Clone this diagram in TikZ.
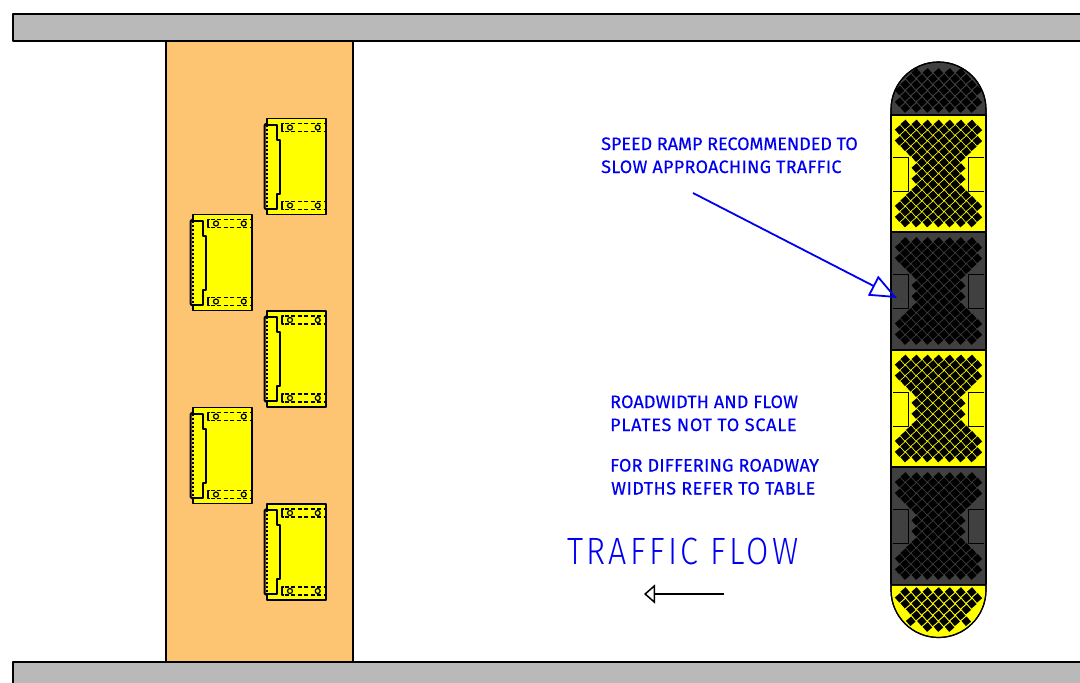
\documentclass[tikz,border=0pt]{standalone}
\usepackage{fontspec}
\setmainfont{Fira Sans}
\newfontfamily\flowfont{Fira Sans Light}
\usetikzlibrary{arrows.meta}
\definecolor{kerbgray}{HTML}{B9B9B9}
\definecolor{crossing}{HTML}{FDC572}
\definecolor{rampdark}{HTML}{404040}
\definecolor{noteblue}{HTML}{0000F0}
\definecolor{platey}{HTML}{FFFF00}
\tikzset{
	roadbar/.style={draw=black, line width=2pt, fill=kerbgray},
	rampface/.style={draw=black, line width=1.2pt},
	note/.style={anchor=base west, inner sep=0pt, text=noteblue, font=\fontsize{18}{18}\selectfont\addfontfeature{LetterSpace=#1,FakeBold=0.4}},
	pics/plate/.style={code={
		\fill[platey] (0,0) rectangle (59,96);
		\draw[line width=1.5pt] (0,6) -- (0,0) -- (59,0) -- (59,96) -- (0,96) -- (0,90);
		\draw[line width=2pt] (-1,5) -- (-2.5,7) -- (-2.5,89) -- (-1,91);
		\draw[line width=2pt] (-2,6) -- (9.7,6) -- (9.7,21) -- (13,21) -- (13,75) -- (9.7,75) -- (9.7,90) -- (-2,90);
		\draw[line width=1.8pt, dash pattern=on 2pt off 2pt] (0.3,6) -- (0.3,90);
		\foreach \sloty in {9,87}{
			\draw[line width=1.5pt] (16.5,\sloty-4) -- (15,\sloty-4) -- (15,\sloty+4) -- (16.5,\sloty+4);
			\draw[line width=1.2pt, dash pattern=on 4pt off 2.5pt] (17.5,\sloty-4) -- (59,\sloty-4);
			\draw[line width=1.2pt, dash pattern=on 4pt off 2.5pt] (17.5,\sloty+4) -- (59,\sloty+4);
			\draw[line width=1.2pt] (23,\sloty) circle (2.5);
			\draw[line width=1.2pt] (50.7,\sloty) circle (2.5);
		}
	}}
}
% one stud of the ramp, #1 is where it sits
\newcommand{\rampstud}[1]{\fill[black, shift={#1}, rotate=41] (-3.4,-3.4) rectangle (3.4,3.4);}
% studs of one full section, #1 is its middle
\newcommand{\rampstuds}[1]{%
	\foreach \row in {0,...,18}{
		\pgfmathsetmacro\dist{abs(\row-9)*5.45}
		\pgfmathsetmacro\halfw{\dist<18?27:(\dist<24?33:(\dist<47?40:34))}
		\foreach \col in {-4,...,4}{
			\pgfmathsetmacro\dx{\col*11.1+mod(\row,2)*5.55}
			\pgfmathtruncatemacro\keep{abs(\dx)<\halfw+0.1}
			\ifnum\keep=1
				\rampstud{(938.5+\dx,#1+\row*5.45-49.05)}
			\fi
		}
	}
}
% studs of an end cap: #1 first row, #2 row step, #3 flat edge, #4 how far out
\newcommand{\capstuds}[4]{%
	\foreach \row in {0,...,6}{
		\foreach \col in {-4,...,4}{
			\pgfmathsetmacro\dx{\col*11.1+mod(\row,2)*5.55}
			\pgfmathsetmacro\rowy{#1+\row*#2}
			\pgfmathtruncatemacro\keep{and(abs(\dx)<40,(\dx/47.5)*(\dx/47.5)+((\rowy-#3)/53)*((\rowy-#3)/53)<#4)}
			\ifnum\keep=1
				\rampstud{(938.5+\dx,\rowy)}
			\fi
		}
	}
}
\newcommand{\rampsection}[2]{%
	\fill[#2] (891,#1-58.5) rectangle (986,#1+58.5);
	\rampstuds{#1}
	\draw[black, line width=1pt, fill=#2] (893,#1-16.5) -- (908,#1-16.5) -- (908,#1+17.5) -- (893,#1+17.5);
	\draw[black, line width=1pt, fill=#2] (984,#1-16.5) -- (968,#1-16.5) -- (968,#1+17.5) -- (984,#1+17.5);
	\draw[rampface] (891,#1-58.5) rectangle (986,#1+58.5);
}
\begin{document}
\begin{tikzpicture}[x=1pt, y=-1pt, line join=round]
	\useasboundingbox (0,0) rectangle (1080,683);
	% road edges and crossing
	\draw[roadbar] (1090,14) -- (12.5,14) -- (12.5,40.5) -- (1090,40.5);
	\draw[roadbar] (1090,662) -- (12.5,662) -- (12.5,690) -- (1090,690);
	\draw[black, line width=1.3pt, fill=crossing] (166,41) rectangle (353,662);
	% flow plates
	\path (267,118.5) pic {plate};
	\path (193,214.5) pic {plate};
	\path (267,311) pic {plate};
	\path (193,407.5) pic {plate};
	\path (267,504) pic {plate};
	% speed ramp
	\draw[rampface, fill=rampdark] (891,115) -- (891,109.5) arc (180:360:47.5) -- (986,115) -- cycle;
	\capstuds{108}{-5.85}{115}{0.92}
	\draw[rampface] (891,115) -- (891,109.5) arc (180:360:47.5) -- (986,115) -- cycle;
	\draw[rampface, fill=platey] (891,585) -- (891,590) arc (180:0:47.5) -- (986,585) -- cycle;
	\capstuds{592}{5.85}{585}{0.82}
	\draw[rampface] (891,585) -- (891,590) arc (180:0:47.5) -- (986,585) -- cycle;
	\rampsection{173.5}{platey}
	\rampsection{291}{rampdark}
	\rampsection{408.5}{platey}
	\rampsection{526}{rampdark}
	% notes
	\node[note=-0.2] (ramp1) at (601,150) {SPEED RAMP RECOMMENDED TO};
	\node[note=1.65] (ramp2) at (601,173) {SLOW APPROACHING TRAFFIC};
	\node[note=0.8] (width1) at (610,408) {ROADWIDTH AND FLOW};
	\node[note=4.2] (width2) at (610,431) {PLATES NOT TO SCALE};
	\node[note=1.3] (table1) at (610,471.5) {FOR DIFFERING ROADWAY};
	\node[note=2.6] (table2) at (611,494.5) {WIDTHS REFER TO TABLE};
	\node[anchor=base west, inner sep=0pt, text=noteblue, font=\flowfont\fontsize{38}{38}\selectfont\addfontfeature{LetterSpace=8.7,FakeStretch=0.85}] (flow) at (567,564) {TRAFFIC FLOW};
	% arrows
	\coordinate (rampfrom) at (693,193);
	\coordinate (ramptip) at (897,298);
	\draw[noteblue, line width=1.8pt, -{Triangle[open, length=27pt, width=22pt, line width=1.8pt]}] (rampfrom) -- (ramptip);
	\coordinate (flowfrom) at (724,594);
	\coordinate (flowtip) at (644,594);
	\draw[black, line width=1.5pt, -{Triangle[open, length=11pt, width=19pt, line width=1.5pt]}] (flowfrom) -- (flowtip);
\end{tikzpicture}
\end{document}
